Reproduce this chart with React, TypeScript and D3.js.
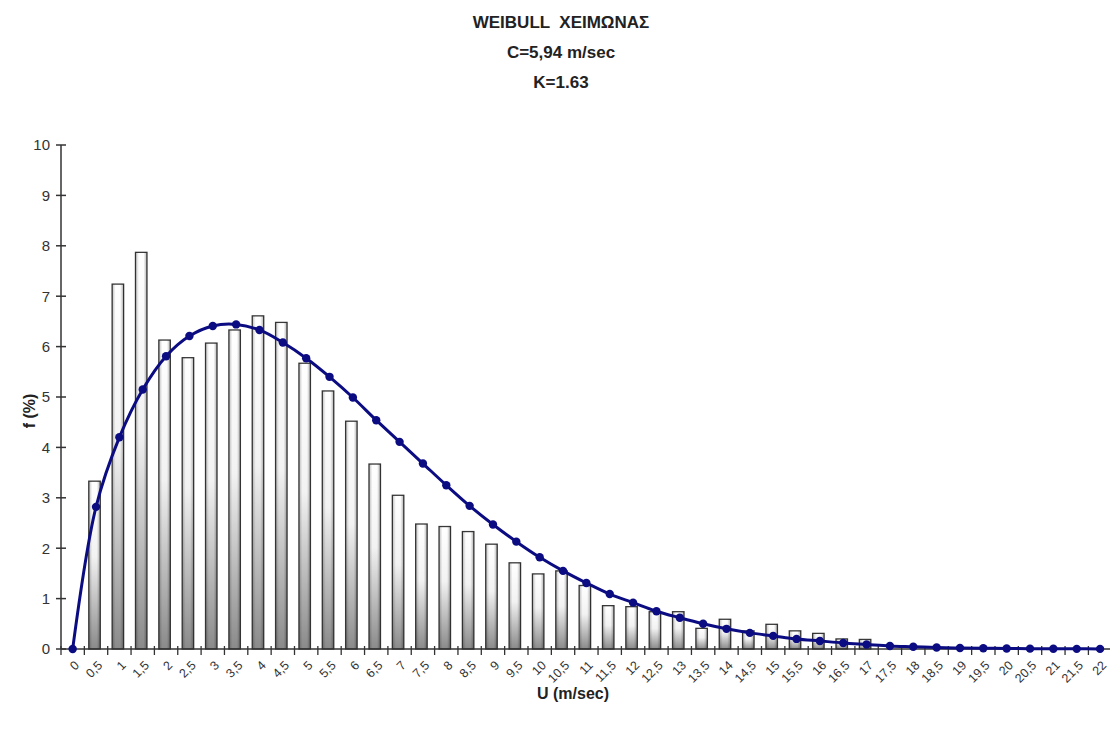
import React from "react";
import * as d3 from "d3";

// Wind speed bins (m/sec), labelled with comma decimals
const categories: string[] = [
  "0", "0,5", "1", "1,5", "2", "2,5", "3", "3,5", "4", "4,5",
  "5", "5,5", "6", "6,5", "7", "7,5", "8", "8,5", "9", "9,5",
  "10", "10,5", "11", "11,5", "12", "12,5", "13", "13,5", "14", "14,5",
  "15", "15,5", "16", "16,5", "17", "17,5", "18", "18,5", "19", "19,5",
  "20", "20,5", "21", "21,5", "22",
];

// Measured frequency per bin (%)
const measured: number[] = [
  0, 3.33, 7.24, 7.87, 6.13, 5.78, 6.07, 6.33, 6.61, 6.48,
  5.67, 5.12, 4.52, 3.67, 3.05, 2.48, 2.43, 2.33, 2.08, 1.71,
  1.49, 1.55, 1.26, 0.86, 0.84, 0.74, 0.74, 0.41, 0.59, 0.36,
  0.49, 0.36, 0.31, 0.2, 0.19, 0, 0, 0, 0, 0,
  0, 0, 0, 0, 0,
];

// Weibull fit per bin (%)
const weibull: number[] = [
  0, 2.82, 4.2, 5.15, 5.81, 6.21, 6.41, 6.44, 6.33, 6.08,
  5.77, 5.4, 4.99, 4.54, 4.11, 3.68, 3.25, 2.84, 2.47, 2.13,
  1.82, 1.55, 1.31, 1.09, 0.92, 0.75, 0.62, 0.5, 0.4, 0.32,
  0.26, 0.2, 0.16, 0.12, 0.09, 0.06, 0.045, 0.03, 0.02, 0.015,
  0.01, 0.007, 0.005, 0.003, 0.002,
];

const yTicks: number[] = [0, 1, 2, 3, 4, 5, 6, 7, 8, 9, 10];

const titleLines: string[] = ["WEIBULL  ΧΕΙΜΩΝΑΣ", "C=5,94 m/sec", "K=1.63"];

const W = 1110;
const H = 729;
const FONT = "'Liberation Sans', Arial, sans-serif";

export default function App() {
  const x0 = 61;
  const band = 23.35;
  const x = d3
    .scaleBand<string>()
    .domain(categories)
    .range([x0, x0 + band * categories.length])
    .padding(0);
  const y = d3.scaleLinear().domain([0, 10]).range([649, 145]);

  const cx = (c: string) => (x(c) as number) + x.bandwidth() / 2;
  const barW = 11.5;

  const line = d3
    .line<number>()
    .x((_, i) => cx(categories[i]))
    .y((d) => y(d))
    .curve(d3.curveCatmullRom.alpha(0.5));

  const axisColor = "#333";
  const navy = "#0c0c82";

  return (
    <svg
      width={W}
      height={H}
      style={{ position: "absolute", left: 0, top: 0, background: "#fff" }}
      fontFamily={FONT}
    >
      <defs>
        <linearGradient id="barFill" x1="0" y1="0" x2="0" y2="1">
          <stop offset="0%" stopColor="#ffffff" />
          <stop offset="45%" stopColor="#f2f2f2" />
          <stop offset="100%" stopColor="#8a8a8a" />
        </linearGradient>
        <linearGradient id="barSide" x1="0" y1="0" x2="1" y2="0">
          <stop offset="0%" stopColor="#000" stopOpacity={0.25} />
          <stop offset="30%" stopColor="#000" stopOpacity={0} />
          <stop offset="70%" stopColor="#000" stopOpacity={0} />
          <stop offset="100%" stopColor="#000" stopOpacity={0.3} />
        </linearGradient>
      </defs>

      {/* title */}
      {titleLines.map((t, i) => (
        <text
          key={t}
          x={561}
          y={28 + i * 30}
          textAnchor="middle"
          fontSize={17}
          fontWeight="bold"
          fill="#222"
          style={{ whiteSpace: "pre" }}
        >
          {t}
        </text>
      ))}

      {/* bars */}
      {measured.map((v, i) =>
        v > 0 ? (
          <g key={"b" + i}>
            <rect
              x={cx(categories[i]) - barW / 2 - 1.5}
              y={y(v)}
              width={barW}
              height={y(0) - y(v)}
              fill="url(#barFill)"
              stroke="#3a3a3a"
              strokeWidth={1.3}
            />
            <rect
              x={cx(categories[i]) - barW / 2 - 1.5}
              y={y(v)}
              width={barW}
              height={y(0) - y(v)}
              fill="url(#barSide)"
            />
          </g>
        ) : null
      )}

      {/* y axis */}
      <line x1={x0} x2={x0} y1={y(10)} y2={y(0)} stroke={axisColor} strokeWidth={1.5} />
      {yTicks.map((t) => (
        <g key={"y" + t}>
          <line x1={x0 - 5} x2={x0 + 5} y1={y(t)} y2={y(t)} stroke={axisColor} strokeWidth={1.5} />
          <text
            x={x0 - 11}
            y={y(t)}
            dy="0.36em"
            textAnchor="end"
            fontSize={15}
            fill="#333"
          >
            {t}
          </text>
        </g>
      ))}

      {/* x axis */}
      <line
        x1={x0}
        x2={x0 + band * categories.length}
        y1={y(0)}
        y2={y(0)}
        stroke={axisColor}
        strokeWidth={1.5}
      />
      {d3.range(categories.length + 1).map((i) => (
        <line
          key={"xt" + i}
          x1={x0 + i * band}
          x2={x0 + i * band}
          y1={y(0) - 3}
          y2={y(0) + 6}
          stroke={axisColor}
          strokeWidth={1.3}
        />
      ))}
      {categories.map((c) => (
        <text
          key={"xl" + c}
          transform={`translate(${cx(c) + 1},${y(0) + 11}) rotate(-45)`}
          textAnchor="end"
          dy="0.7em"
          fontSize={12.5}
          fill="#333"
        >
          {c}
        </text>
      ))}

      {/* weibull curve */}
      <path d={line(weibull) ?? ""} fill="none" stroke={navy} strokeWidth={3} />
      {weibull.map((v, i) => (
        <circle key={"p" + i} cx={cx(categories[i])} cy={y(v)} r={4.2} fill={navy} />
      ))}

      {/* axis titles */}
      <text
        transform={`translate(35,${y(5) + 14}) rotate(-90)`}
        textAnchor="middle"
        fontSize={16}
        fontWeight="bold"
        fill="#222"
      >
        f (%)
      </text>
      <text x={573} y={699} textAnchor="middle" fontSize={16} fontWeight="bold" fill="#222">
        U (m/sec)
      </text>
    </svg>
  );
}
